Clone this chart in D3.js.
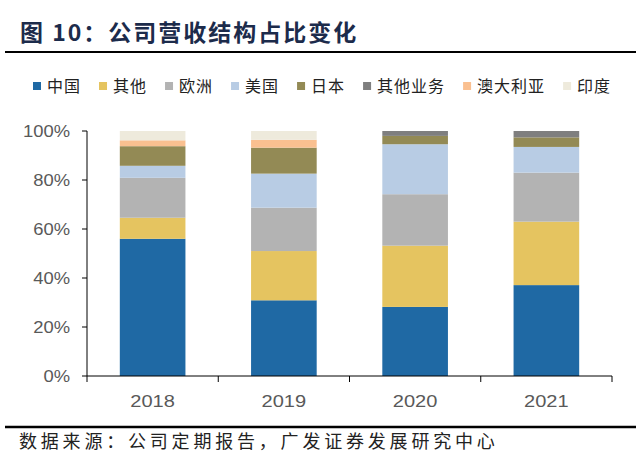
<!DOCTYPE html>
<html>
<head>
<meta charset="utf-8">
<script src="https://cdn.jsdelivr.net/npm/d3@7.9.0/dist/d3.min.js"></script>
<style>
  body { margin: 0; background: #fff; }
  svg { display: block; }
</style>
</head>
<body>
<svg id="chart" width="640" height="461"></svg>
<script>
// data (share of revenue, %)
const years = ['2018', '2019', '2020', '2021'];
const regions = ['中国', '其他', '欧洲', '美国', '日本', '其他业务', '澳大利亚', '印度'];
const china     = [56.0, 30.9, 28.2, 37.1];
const other     = [8.6, 20.1, 25.0, 25.9];
const europe    = [16.3, 17.7, 21.0, 20.0];
const usa       = [4.9, 13.9, 20.4, 10.5];
const japan     = [8.0, 10.6, 3.4, 3.9];
const otherBiz  = [0, 0, 2.0, 2.6];
const australia = [2.4, 3.2, 0, 0];
const india     = [3.8, 3.6, 0, 0];
const yTicks = [0, 20, 40, 60, 80, 100];

const colors = ['#1f69a4', '#e5c460', '#b3b3b3', '#b8cce4', '#938a55', '#7f7f7f', '#fac090', '#eeeadc'];
const series = [china, other, europe, usa, japan, otherBiz, australia, india];

const svg = d3.select('#chart');
const sans = 'Liberation Sans, Arial, sans-serif';
const cjk = 'Noto Sans CJK SC, sans-serif';

// title + rules
svg.append('text')
  .attr('x', 20).attr('y', 41)
  .attr('font-family', cjk).attr('font-weight', 'bold')
  .attr('font-size', 23).attr('letter-spacing', 2).attr('fill', '#1c2b4b')
  .text('图 10：公司营收结构占比变化');
svg.append('line').attr('x1', 5).attr('x2', 636).attr('y1', 52).attr('y2', 52)
  .attr('stroke', '#000').attr('stroke-width', 2);
svg.append('line').attr('x1', 5).attr('x2', 636).attr('y1', 427).attr('y2', 427)
  .attr('stroke', '#000').attr('stroke-width', 2.5);
svg.append('text')
  .attr('x', 19).attr('y', 448)
  .attr('font-family', cjk).attr('font-size', 18)
  .attr('letter-spacing', 3.8).attr('fill', '#222')
  .text('数据来源：公司定期报告，广发证券发展研究中心');

// legend
let lx = 33;
regions.forEach((r, i) => {
  const g = svg.append('g');
  g.append('rect').attr('x', lx).attr('y', 82).attr('width', 8).attr('height', 8)
    .attr('fill', colors[i]);
  const t = g.append('text').attr('x', lx + 14).attr('y', 92)
    .attr('font-family', cjk).attr('font-size', 16).attr('letter-spacing', 1)
    .attr('fill', '#222').text(r);
  lx += 14 + t.node().getComputedTextLength() + 18;
});

// scales
const x = d3.scaleBand().domain(years).range([87, 612]).paddingInner(0.5).paddingOuter(0.25);
const y = d3.scaleLinear().domain([0, 100]).range([376, 131]);

const table = years.map((yr, j) => {
  const row = { year: yr };
  regions.forEach((r, i) => { row[r] = series[i][j]; });
  return row;
});
const stacked = d3.stack().keys(regions)(table);

svg.append('g').selectAll('g')
  .data(stacked)
  .join('g')
  .attr('fill', (d, i) => colors[i])
  .selectAll('rect')
  .data(d => d)
  .join('rect')
  .attr('x', d => x(d.data.year))
  .attr('width', x.bandwidth())
  .attr('y', d => y(d[1]))
  .attr('height', d => y(d[0]) - y(d[1]));

// y axis
const ya = svg.append('g');
ya.append('line').attr('x1', 87).attr('x2', 87).attr('y1', y(100)).attr('y2', y(0))
  .attr('stroke', '#000');
yTicks.forEach(v => {
  ya.append('line').attr('x1', 82).attr('x2', 87).attr('y1', y(v)).attr('y2', y(v))
    .attr('stroke', '#000');
  ya.append('text')
    .attr('transform', `translate(70,${y(v) + 6}) scale(1.15,1)`)
    .attr('text-anchor', 'end')
    .attr('font-family', sans).attr('font-size', 16).attr('fill', '#595959')
    .text(v + '%');
});

// x axis
const xa = svg.append('g');
xa.append('line').attr('x1', 87).attr('x2', 612).attr('y1', y(0)).attr('y2', y(0))
  .attr('stroke', '#000');
const edges = years.map(yr => x(yr) - x.step() * x.paddingInner() / 2);
edges.push(edges[edges.length - 1] + x.step());
edges.forEach(e => {
  xa.append('line').attr('x1', e).attr('x2', e).attr('y1', y(0)).attr('y2', y(0) + 6)
    .attr('stroke', '#000');
});
years.forEach(yr => {
  xa.append('text')
    .attr('transform', `translate(${x(yr) + x.bandwidth() / 2},407) scale(1.18,1)`)
    .attr('text-anchor', 'middle')
    .attr('font-family', sans).attr('font-size', 17).attr('fill', '#595959')
    .text(yr);
});
</script>
</body>
</html>
